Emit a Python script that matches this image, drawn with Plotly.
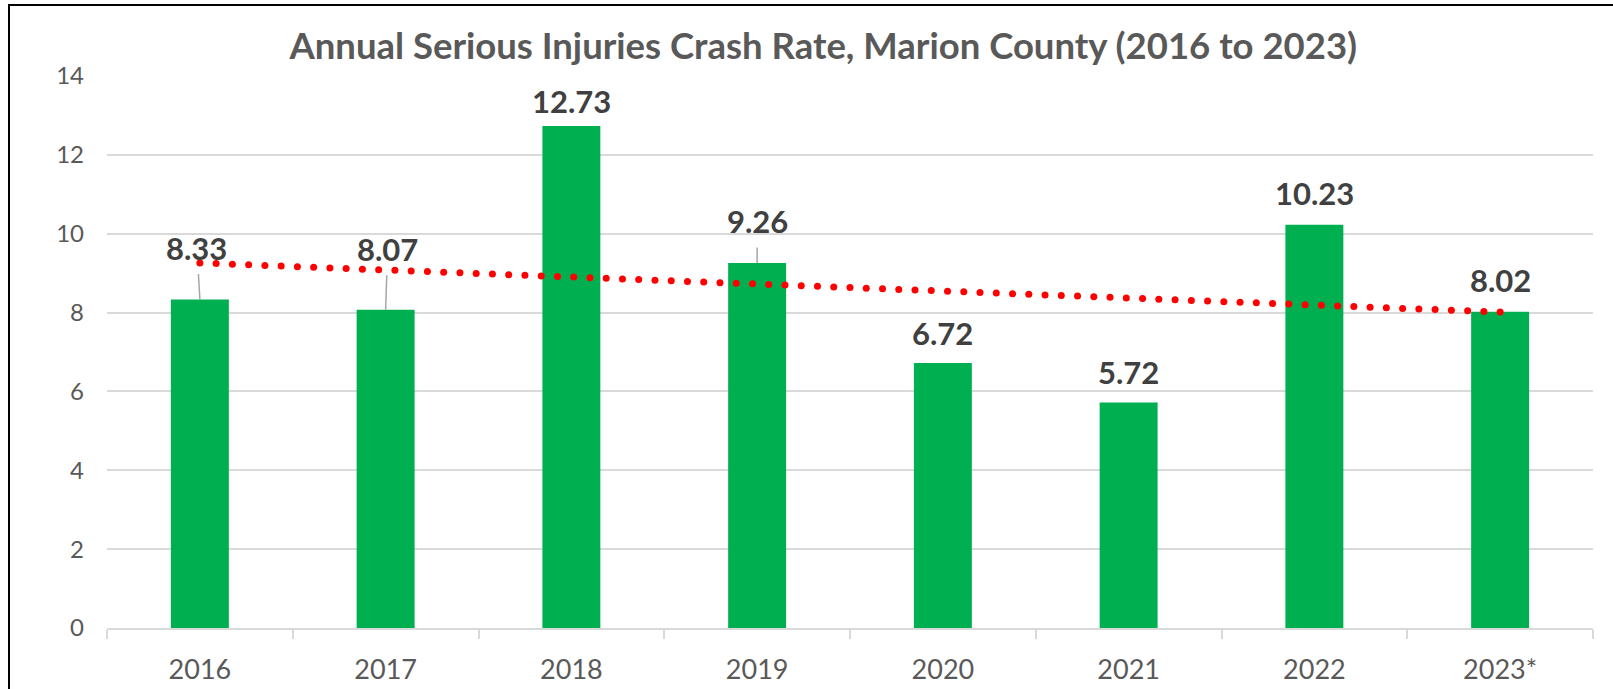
import numpy as np
import plotly.graph_objects as go

# Annual serious-injury crash rate, Marion County
years = ["2016", "2017", "2018", "2019", "2020", "2021", "2022", "2023*"]
rates = [8.33, 8.07, 12.73, 9.26, 6.72, 5.72, 10.23, 8.02]
y_ticks = [0, 2, 4, 6, 8, 10, 12, 14]

BAR = "#00B050"
LABEL = "#404040"
GREY_TEXT = "#595959"
GRID = "#D9D9D9"
FONT = "Lato"

n = len(years)
fig = go.Figure()

fig.add_trace(go.Bar(
    x=list(range(n)), y=rates, marker=dict(color=BAR, line=dict(width=0)),
    hoverinfo="skip", showlegend=False,
))

# Linear trendline fitted to the yearly rates, drawn as round dots
idx = np.arange(n)
slope, intercept = np.polyfit(idx, rates, 1)
tx = np.linspace(0, n - 1, 81)
fig.add_trace(go.Scatter(
    x=tx, y=slope * tx + intercept, mode="markers",
    marker=dict(color="#FF0000", size=7, line=dict(width=0)),
    hoverinfo="skip", showlegend=False,
))

# value labels: (pixel offset x, pixel offset y, leader line?)
label_style = {
    0: (-3, -52, True),
    1: (2, -61, True),
    2: (0, 25, False),
    3: (0, -42, True),
    4: (0, 30, False),
    5: (0, 30, False),
    6: (0, 32, False),
    7: (0, 32, False),
}
for i, v in enumerate(rates):
    dx, dy, leader = label_style[i]
    common = dict(x=i, y=v, xref="x", yref="y", text=f"<b>{v:.2f}</b>",
                  font=dict(family=FONT, size=31, color=LABEL))
    if leader:
        fig.add_annotation(**common, showarrow=True, arrowhead=0, arrowwidth=1.5,
                           arrowcolor="#A6A6A6", ax=dx, ay=dy, axref="pixel",
                           ayref="pixel", borderpad=7)
    else:
        fig.add_annotation(**common, showarrow=False, yanchor="middle", yshift=dy)

# chart-area border
fig.add_shape(type="rect", xref="paper", yref="paper", xsizemode="pixel",
              ysizemode="pixel", xanchor=0, yanchor=1,
              x0=-98, x1=1540, y0=71, y1=-700,
              line=dict(color="#000000", width=2), layer="above")

fig.update_layout(
    width=1613, height=689,
    margin=dict(l=107, r=20, t=76, b=61),
    paper_bgcolor="white", plot_bgcolor="white",
    bargap=0.688,
    title=dict(text="<b>Annual Serious Injuries Crash Rate, Marion County (2016 to 2023)</b>",
               x=0.482, xref="paper", xanchor="center", y=1 - 46 / 689, yanchor="middle",
               font=dict(family=FONT, size=36.5, color=GREY_TEXT)),
    xaxis=dict(
        tickmode="array", tickvals=list(range(n)), ticktext=years,
        range=[-0.5, n - 0.5], automargin=False,
        showline=True, linecolor=GRID, linewidth=1.5,
        # invisible major ticks only push the year labels down
        ticks="outside", ticklen=17, tickcolor="rgba(0,0,0,0)",
        # visible separators between categories
        minor=dict(ticks="outside", tickmode="array",
                   tickvals=[k - 0.5 for k in range(n + 1)],
                   ticklen=9, tickcolor=GRID, tickwidth=1.5, showgrid=False),
        showgrid=False, zeroline=False,
        tickfont=dict(family=FONT, size=27, color=GREY_TEXT),
    ),
    yaxis=dict(
        range=[0, 14], tickmode="array", tickvals=y_ticks, automargin=False,
        showgrid=True, gridcolor=GRID, gridwidth=1.5, zeroline=False,
        showline=False, ticks="", ticklabelstandoff=22,
        tickfont=dict(family=FONT, size=24, color=GREY_TEXT),
    ),
)

fig.write_html("out.html")
